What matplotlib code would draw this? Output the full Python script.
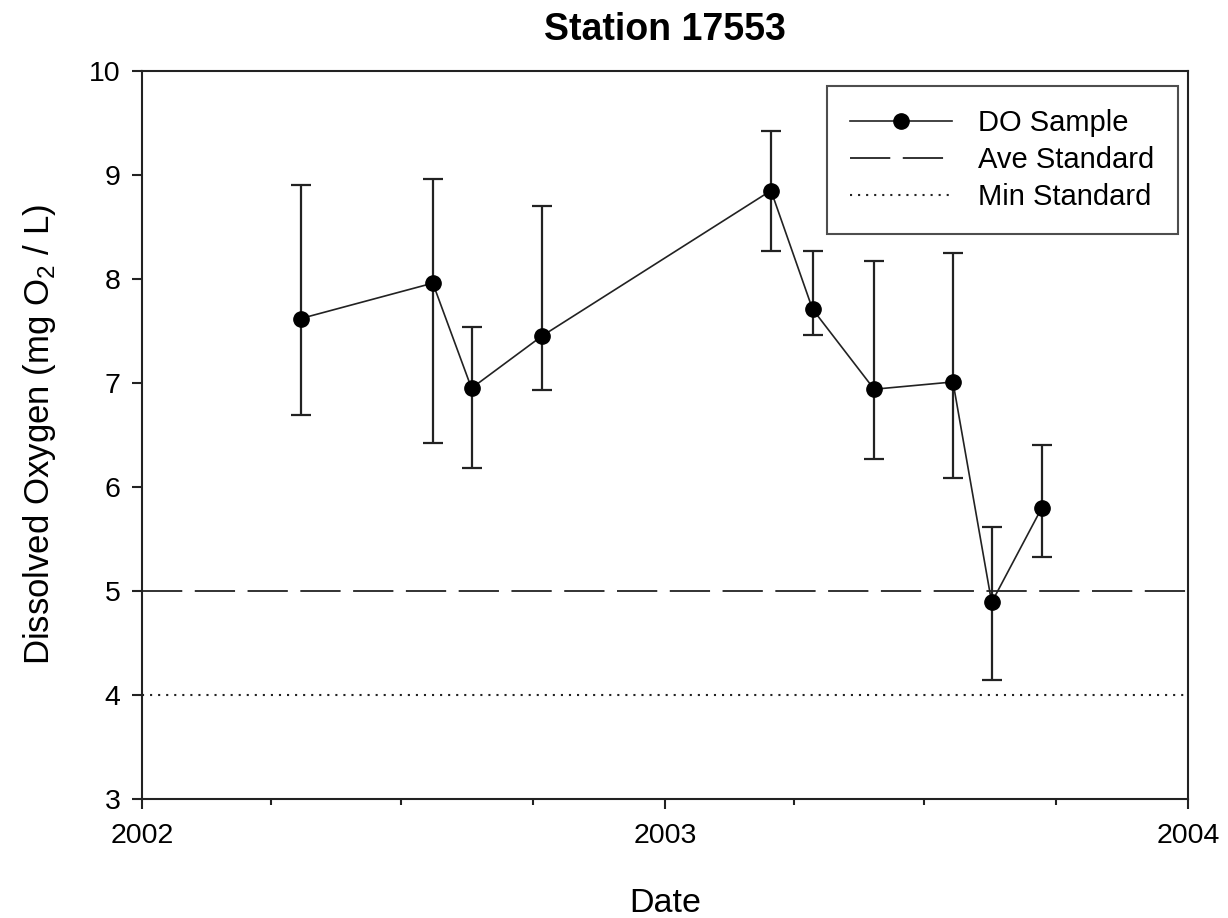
"""Dissolved oxygen at station 17553"""

import datetime as dt

import matplotlib
matplotlib.use("Agg")
import matplotlib.pyplot as plt
import matplotlib.dates as mdates

plt.rcParams["font.family"] = ["Liberation Sans", "DejaVu Sans"]
plt.rcParams["mathtext.fontset"] = "custom"
plt.rcParams["mathtext.rm"] = "Liberation Sans"
plt.rcParams["lines.scale_dashes"] = False

# %% data
dates = ["2002-04-22", "2002-07-23", "2002-08-19", "2002-10-07", "2003-03-16",
         "2003-04-14", "2003-05-27", "2003-07-21", "2003-08-17", "2003-09-21"]
do_mean = [7.62, 7.96, 6.95, 7.45, 8.85, 7.71, 6.94, 7.01, 4.89, 5.80]
do_low = [6.69, 6.42, 6.18, 6.93, 8.27, 7.46, 6.27, 6.09, 4.14, 5.33]
do_high = [8.90, 8.96, 7.54, 8.70, 9.42, 8.27, 8.17, 8.25, 5.62, 6.40]
ave_standard = 5.0
min_standard = 4.0

x = [dt.datetime.strptime(d, "%Y-%m-%d") for d in dates]
err = [[m - lo for m, lo in zip(do_mean, do_low)],
       [hi - m for m, hi in zip(do_mean, do_high)]]

# %% plot
fig = plt.figure(figsize=(12.28, 9.18), dpi=100)
ax = fig.add_axes([0.1156, 0.1296, 0.8518, 0.7931])

ax.errorbar(x, do_mean, yerr=err, fmt="none", ecolor="#222222",
            elinewidth=1.6, capsize=7.2, capthick=1.6, zorder=2)
ax.plot(x, do_mean, color="#222222", lw=1.2, marker="o", ms=11,
        mfc="black", mec="black", label="DO Sample", zorder=3)
ax.axhline(ave_standard, color="#222222", lw=1.3, dashes=(29, 9),
           label="Ave Standard")
ax.axhline(min_standard, color="#222222", lw=1.5, dashes=(1.5, 4.3),
           label="Min Standard")

ax.set_xlim(dt.datetime(2002, 1, 1), dt.datetime(2004, 1, 1))
ax.set_ylim(3, 10)
ax.xaxis.set_major_locator(mdates.YearLocator())
ax.xaxis.set_major_formatter(mdates.DateFormatter("%Y"))
ax.xaxis.set_minor_locator(mdates.MonthLocator(bymonth=[4, 7, 10]))
ax.set_yticks(range(3, 11))

for s in ax.spines.values():
    s.set_linewidth(1.5)
    s.set_color("#222222")
ax.tick_params(which="major", direction="out", length=7.5, width=1.5,
               labelsize=20.5, color="#222222", pad=10)
ax.tick_params(which="minor", direction="out", length=4.5, width=1.5,
               color="#222222")
ax.tick_params(axis="y", pad=8)

ax.set_title("Station 17553", fontsize=27, fontweight="bold", pad=22)
ax.set_xlabel("Date", fontsize=24.5, labelpad=28)
ax.set_ylabel("Dissolved Oxygen (mg O$_\\mathregular{2}$ / L)", fontsize=25,
              labelpad=22)

leg = ax.legend(loc="upper right", bbox_to_anchor=(0.9904, 0.9794),
                borderaxespad=0, fontsize=21, frameon=True, fancybox=False,
                handlelength=3.5, handletextpad=0.9, labelspacing=0.3,
                borderpad=0.8, edgecolor="#222222")
leg.get_frame().set_linewidth(1.5)

# %% save plot
fig.savefig("out.png", dpi=100)
